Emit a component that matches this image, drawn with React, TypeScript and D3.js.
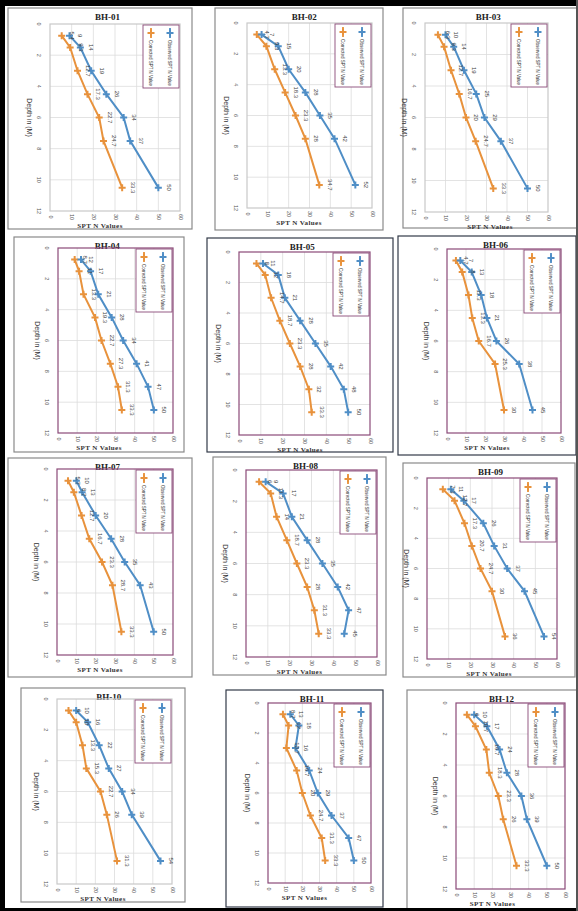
import React from 'react';
import * as d3 from 'd3';

// borehole names and axis ticks
const boreholes = ['BH-01', 'BH-02', 'BH-03', 'BH-04', 'BH-05', 'BH-06', 'BH-07', 'BH-08', 'BH-09', 'BH-10', 'BH-11', 'BH-12'];
const depthTicks = [0, 2, 4, 6, 8, 10, 12];
const nTicks = [0, 10, 20, 30, 40, 50, 60];
const seriesNames = ['Observed SPT N Value', 'Corrected SPT N Value'];

// sampling depths (m)
const depths7 = [0.75, 1.5, 3, 4.5, 6, 7.5, 10.5];
const depths8 = [0.75, 1.5, 3, 4.5, 6, 7.5, 9, 10.5];

// SPT N values
const observed01 = [9, 14, 19, 26, 34, 37, 50];
const corrected01 = [5.4, 9.3, 12.7, 17.3, 22.7, 24.7, 33.3];
const observed02 = [7, 15, 20, 28, 35, 42, 52];
const corrected02 = [4.7, 9.3, 13.3, 18.3, 23.3, 28, 34.7];
const observed03 = [10, 14, 19, 25, 29, 37, 50];
const corrected03 = [6.3, 9.3, 12.7, 16.7, 20, 24.7, 33.3];
const observed04 = [12, 17, 21, 28, 34, 41, 47, 50];
const corrected04 = [8.7, 11, 13.3, 19.3, 22.7, 27.3, 31.3, 33.3];
const observed05 = [11, 18, 21, 28, 35, 42, 48, 50];
const corrected05 = [8, 12, 14.7, 18.7, 23.3, 28, 32, 33.3];
const observed06 = [7, 13, 18, 21, 26, 38, 45];
const corrected06 = [4.7, 8, 11.3, 13.3, 16.7, 25.3, 30];
const observed07 = [10, 13, 20, 28, 35, 43, 50];
const corrected07 = [5.7, 8.7, 12.7, 16.7, 23.3, 28.7, 33.3];
const observed08 = [9, 17, 21, 28, 35, 42, 47, 45];
const corrected08 = [6, 11.3, 14, 18.7, 23.3, 28, 31.3, 33.3];
const observed09 = [11, 17, 26, 31, 37, 45, 54];
const corrected09 = [7.3, 12.7, 17.3, 20.7, 24.7, 30, 36];
const observed10 = [10, 16, 22, 27, 34, 39, 54];
const corrected10 = [6, 10, 13.3, 15.3, 22.7, 26, 31.3];
const observed11 = [13, 18, 16, 24, 29, 37, 47, 50];
const corrected11 = [8.7, 12, 10.7, 16.7, 20, 24.7, 31.3, 33.3];
const observed12 = [10, 17, 24, 28, 36, 39, 50];
const corrected12 = [6, 10.7, 16.7, 18.3, 23.3, 26, 33.3];

const depthsList = [depths7, depths7, depths7, depths8, depths8, depths7, depths7, depths8, depths7, depths7, depths8, depths7];
const observedList = [observed01, observed02, observed03, observed04, observed05, observed06, observed07, observed08, observed09, observed10, observed11, observed12];
const correctedList = [corrected01, corrected02, corrected03, corrected04, corrected05, corrected06, corrected07, corrected08, corrected09, corrected10, corrected11, corrected12];

// panel layout: outer box, plot area, border colours
const panels = [
  { box: [8, 8, 192, 229], plot: [50, 24, 180, 211], frame: '#c9c9c9', edge: '#8a8a8a' },
  { box: [215, 8, 383, 230], plot: [247, 23, 372, 208], frame: '#c9c9c9', edge: '#8a8a8a' },
  { box: [403, 8, 577, 228], plot: [425, 23, 548, 212], frame: '#c9c9c9', edge: '#8a8a8a' },
  { box: [14, 237, 184, 452], plot: [58, 248, 173, 433], frame: '#8b4a78', edge: '#8a8a8a' },
  { box: [207, 238, 393, 452], plot: [239, 252, 370, 435], frame: '#8b4a78', edge: '#333a48' },
  { box: [398, 236, 576, 455], plot: [447, 249, 561, 433], frame: '#8b4a78', edge: '#333a48' },
  { box: [8, 458, 192, 677], plot: [57, 469, 173, 655], frame: '#8b4a78', edge: '#8a8a8a' },
  { box: [213, 457, 386, 675], plot: [246, 470, 377, 657], frame: '#8b4a78', edge: '#8a8a8a' },
  { box: [403, 463, 575, 677], plot: [427, 478, 557, 659], frame: '#8b4a78', edge: '#8a8a8a' },
  { box: [21, 688, 185, 902], plot: [57, 699, 172, 884], frame: '#c9c9c9', edge: '#8a8a8a' },
  { box: [226, 690, 383, 907], plot: [268, 703, 371, 883], frame: '#8b4a78', edge: '#333a48' },
  { box: [407, 690, 578, 911], plot: [456, 703, 565, 889], frame: '#8b4a78', edge: '#8a8a8a' },
];

const BLUE = '#4f8ec6';
const ORANGE = '#e8923c';
const SERIF = '"Liberation Serif", "Times New Roman", serif';
const NARROW = '"Liberation Sans Narrow", "Liberation Sans", Arial, sans-serif';

const fmt = (v: number) => (Number.isInteger(v) ? String(v) : v.toFixed(1));

function Plus({ x, y, color }: { x: number; y: number; color: string }) {
  return <path d={`M${x - 3.5},${y}H${x + 3.5}M${x},${y - 3.5}V${y + 3.5}`} stroke={color} strokeWidth={2} />;
}

function Panel({ idx }: { idx: number }) {
  const p = panels[idx];
  const [bx0, by0, bx1, by1] = p.box;
  const [px0, py0, px1, py1] = p.plot;
  const x = d3.scaleLinear().domain([0, 60]).range([px0, px1]);
  const y = d3.scaleLinear().domain([0, 12]).range([py0, py1]);
  const depths = depthsList[idx];
  const obs = observedList[idx];
  const cor = correctedList[idx];
  const line = d3.line<[number, number]>().x(d => x(d[0])).y(d => y(d[1]));
  const obsPts: [number, number][] = obs.map((v, i) => [v, depths[i]]);
  const corPts: [number, number][] = cor.map((v, i) => [v, depths[i]]);
  const cx = (bx0 + bx1) / 2;
  const pcx = (px0 + px1) / 2;
  const pcy = (py0 + py1) / 2;
  const lx1 = px1 - 1;
  const lx0 = px1 - 37;
  const ly0 = py0 + 1;
  const ly1 = py0 + 64;

  return (
    <g>
      <rect x={bx0} y={by0} width={bx1 - bx0} height={by1 - by0} fill="#fff" stroke={p.edge} strokeWidth={1.2} />
      <text x={(cx + pcx) / 2} y={by0 + 12} textAnchor="middle" fontFamily={SERIF} fontWeight="bold" fontSize={9} fill="#222">
        {boreholes[idx]}
      </text>
      {/* grid */}
      {nTicks.slice(1, -1).map(t => (
        <line key={'gx' + t} x1={x(t)} x2={x(t)} y1={py0} y2={py1} stroke="#dcdcdc" strokeWidth={0.8} />
      ))}
      {depthTicks.slice(1, -1).map(t => (
        <line key={'gy' + t} x1={px0} x2={px1} y1={y(t)} y2={y(t)} stroke="#dcdcdc" strokeWidth={0.8} />
      ))}
      <rect x={px0} y={py0} width={px1 - px0} height={py1 - py0} fill="none" stroke={p.frame} strokeWidth={1.2} />
      {/* depth axis */}
      {depthTicks.map(t => (
        <text key={'ty' + t} transform={`translate(${px0 - 12},${y(t)}) rotate(90)`} textAnchor="middle" dominantBaseline="middle"
          fontFamily={NARROW} fontSize={5.5} fill="#555">{t}</text>
      ))}
      <text transform={`translate(${px0 - 21},${pcy}) rotate(90)`} textAnchor="middle" dominantBaseline="middle"
        fontFamily={NARROW} fontSize={7} fill="#333">Depth in (M)</text>
      {/* N axis */}
      {nTicks.map(t => (
        <text key={'tx' + t} transform={`translate(${x(t)},${py1 + 6}) rotate(90)`} textAnchor="middle" dominantBaseline="middle"
          fontFamily={NARROW} fontSize={5.5} fill="#555">{t}</text>
      ))}
      <text x={cx} y={py1 + 17} textAnchor="middle" fontFamily={SERIF} fontWeight="bold" fontSize={7} letterSpacing={0.4} fill="#333">
        SPT N Values
      </text>
      {/* series */}
      <path d={line(corPts) || ''} fill="none" stroke={ORANGE} strokeWidth={2} />
      <path d={line(obsPts) || ''} fill="none" stroke={BLUE} strokeWidth={2} />
      {corPts.map((d, i) => <Plus key={'pc' + i} x={x(d[0])} y={y(d[1])} color={ORANGE} />)}
      {obsPts.map((d, i) => <Plus key={'po' + i} x={x(d[0])} y={y(d[1])} color={BLUE} />)}
      {corPts.map((d, i) => (
        <text key={'lc' + i} transform={`translate(${x(d[0]) + 10},${y(d[1])}) rotate(90)`} textAnchor="middle" dominantBaseline="middle"
          fontFamily={NARROW} fontSize={6} fill="#444">{fmt(d[0])}</text>
      ))}
      {obsPts.map((d, i) => (
        <text key={'lo' + i} transform={`translate(${x(d[0]) + 10},${y(d[1])}) rotate(90)`} textAnchor="middle" dominantBaseline="middle"
          fontFamily={NARROW} fontSize={6} fill="#444">{fmt(d[0])}</text>
      ))}
      {/* legend */}
      <rect x={lx0} y={ly0} width={lx1 - lx0} height={ly1 - ly0} fill="#fff" stroke="#8b4a78" strokeWidth={0.9} />
      {[BLUE, ORANGE].map((c, i) => {
        const lx = i === 0 ? lx1 - 9 : lx0 + 8;
        return (
          <g key={'lg' + i}>
            <line x1={lx} x2={lx} y1={ly0 + 3} y2={ly0 + 13} stroke={c} strokeWidth={1.8} />
            <Plus x={lx} y={ly0 + 8} color={c} />
            <text transform={`translate(${lx},${ly0 + 15}) rotate(90)`} dominantBaseline="middle" fontFamily={NARROW}
              fontSize={6} textLength={46} lengthAdjust="spacingAndGlyphs" fill="#333">{seriesNames[i]}</text>
          </g>
        );
      })}
    </g>
  );
}

export default function App() {
  return (
    <svg width={578} height={911} style={{ position: 'absolute', left: 0, top: 0, background: '#fff' }}>
      <rect x={0} y={0} width={578} height={911} fill="#fff" />
      {boreholes.map((b, i) => <Panel key={b} idx={i} />)}
      {/* outer frame */}
      <rect x={0} y={0} width={5} height={911} fill="#000" />
      <rect x={0} y={0} width={578} height={6} fill="#000" />
      <rect x={0} y={908} width={578} height={3} fill="#000" />
      <rect x={576} y={0} width={2} height={911} fill="#555" />
    </svg>
  );
}
